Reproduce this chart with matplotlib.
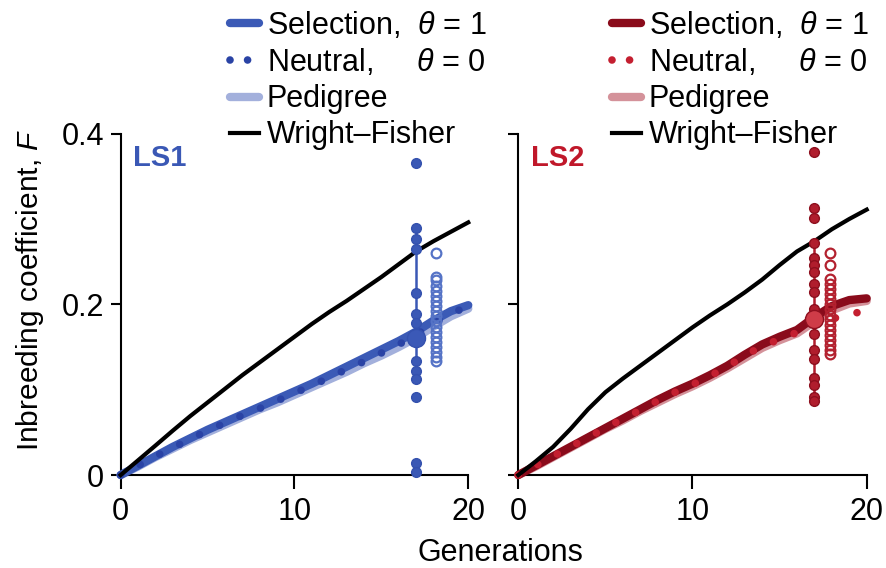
import matplotlib
matplotlib.use('Agg')
import matplotlib.pyplot as plt
import numpy as np

plt.rcParams['font.family'] = ['Liberation Sans', 'DejaVu Sans']
plt.rcParams['mathtext.fontset'] = 'custom'
plt.rcParams['mathtext.rm'] = 'Liberation Sans'
plt.rcParams['mathtext.it'] = 'Liberation Sans:italic'
plt.rcParams['font.size'] = 22

gens = np.arange(21)

# LS1 (blue)
wf1 = [0, 0.0172, 0.0345, 0.052, 0.069, 0.085, 0.101, 0.117, 0.132, 0.147, 0.162,
       0.177, 0.191, 0.204, 0.218, 0.232, 0.247, 0.262, 0.274, 0.285, 0.296]
sel1 = [0, 0.011, 0.022, 0.033, 0.043, 0.053, 0.062, 0.071, 0.080, 0.089, 0.098,
        0.107, 0.117, 0.127, 0.137, 0.147, 0.157, 0.168, 0.181, 0.192, 0.199]
neu1 = [0, 0.011, 0.022, 0.032, 0.042, 0.052, 0.061, 0.070, 0.078, 0.087, 0.096,
        0.105, 0.114, 0.124, 0.133, 0.143, 0.153, 0.164, 0.178, 0.189, 0.198]
ped1 = [0, 0.010, 0.021, 0.031, 0.041, 0.050, 0.059, 0.068, 0.077, 0.085, 0.094,
        0.103, 0.112, 0.121, 0.131, 0.140, 0.150, 0.161, 0.174, 0.186, 0.195]
ls1_filled = [0.366, 0.290, 0.276, 0.265, 0.213, 0.189, 0.178, 0.134, 0.122,
              0.113, 0.091, 0.0145, 0.003]
ls1_open = [0.260, 0.232, 0.228, 0.222, 0.216, 0.210, 0.204, 0.198, 0.192, 0.186,
            0.180, 0.174, 0.168, 0.162, 0.156, 0.150, 0.144, 0.138, 0.134]
ls1_mean = 0.160
ls1_range = [0.113, 0.265]

# LS2 (red)
wf2 = [0, 0.016, 0.033, 0.054, 0.077, 0.097, 0.113, 0.128, 0.143, 0.158, 0.173,
       0.187, 0.200, 0.214, 0.229, 0.246, 0.262, 0.274, 0.288, 0.300, 0.311]
sel2 = [0, 0.011, 0.022, 0.033, 0.044, 0.055, 0.066, 0.077, 0.088, 0.098, 0.107,
        0.117, 0.128, 0.141, 0.153, 0.162, 0.170, 0.185, 0.198, 0.205, 0.207]
neu2 = [0, 0.011, 0.022, 0.033, 0.044, 0.055, 0.066, 0.076, 0.087, 0.097, 0.106,
        0.116, 0.127, 0.140, 0.151, 0.159, 0.167, 0.176, 0.183, 0.188, 0.193]
ped2 = [0, 0.010, 0.021, 0.032, 0.043, 0.054, 0.064, 0.075, 0.085, 0.095, 0.104,
        0.114, 0.125, 0.137, 0.149, 0.158, 0.166, 0.180, 0.193, 0.201, 0.204]
ls2_filled = [0.379, 0.3125, 0.301, 0.272, 0.254, 0.246, 0.238, 0.224, 0.214, 0.195,
              0.165, 0.146, 0.136, 0.114, 0.105, 0.091, 0.087]
ls2_open = [0.260, 0.246, 0.230, 0.224, 0.218, 0.212, 0.206, 0.200, 0.194, 0.188,
            0.182, 0.176, 0.170, 0.164, 0.158, 0.152, 0.147, 0.142]
ls2_mean = 0.183
ls2_range = [0.087, 0.272]

x_filled = 17
x_open = [18.15, 17.9]

panels = [
    dict(name='LS1', wf=wf1, sel=sel1, neu=neu1, ped=ped1, filled=ls1_filled,
         opened=ls1_open, mean=ls1_mean, rng=ls1_range, xo=x_open[0],
         c_sel='#3b5ab6', c_neu='#2a43a5', c_ped='#a3b0dc', c_dot='#3a58b5',
         c_dot_edge='#3451ae', c_big='#3b59b7', c_open='#5573c6', c_txt='#3a58b5'),
    dict(name='LS2', wf=wf2, sel=sel2, neu=neu2, ped=ped2, filled=ls2_filled,
         opened=ls2_open, mean=ls2_mean, rng=ls2_range, xo=x_open[1],
         c_sel='#8a0b1b', c_neu='#c41f30', c_ped='#d4929a', c_dot='#b01d2d',
         c_dot_edge='#8e0f1e', c_big='#cf3c48', c_open='#b3212f', c_txt='#c0182a'),
]

dots = (0, (0.001, 2.9))

fig = plt.figure(figsize=(8.86, 5.68), dpi=100)
ax1 = fig.add_axes([0.1362, 0.1637, 0.3923, 0.601])
ax2 = fig.add_axes([0.585, 0.1637, 0.3932, 0.601])

for ax, p in zip([ax1, ax2], panels):
    ax.plot(gens, p['ped'], color=p['c_ped'], lw=6, solid_capstyle='round',
            zorder=2, clip_on=False)
    ax.plot(gens, p['sel'], color=p['c_sel'], lw=6, solid_capstyle='round',
            zorder=3, clip_on=False)
    ax.plot(gens, p['neu'], color=p['c_neu'], lw=5.5, linestyle=dots,
            dash_capstyle='round', zorder=4, clip_on=False)
    ax.plot(gens, p['wf'], color='black', lw=3, zorder=5, clip_on=False)

    # replicate values at generation 17
    ax.plot([x_filled, x_filled], p['rng'], color=p['c_dot'], lw=1.8, zorder=6)
    ax.plot([p['xo']] * len(p['opened']), p['opened'], linestyle='none', marker='o',
            ms=7, mfc='none', mec=p['c_open'], mew=1.6, zorder=6, clip_on=False)
    ax.plot([x_filled] * len(p['filled']), p['filled'], linestyle='none', marker='o',
            ms=7, mfc=p['c_dot'], mec=p['c_dot_edge'], mew=1.0, zorder=7, clip_on=False)
    ax.plot([x_filled], [p['mean']], linestyle='none', marker='o', ms=13,
            mfc=p['c_big'], mec=p['c_dot_edge'], mew=1.0, zorder=8)

    ax.text(0.035, 0.93, p['name'], transform=ax.transAxes, color=p['c_txt'],
            fontsize=21, fontweight='bold', va='center', ha='left')

    ax.set_xlim(0, 20)
    ax.set_ylim(0, 0.4)
    ax.set_xticks([0, 10, 20])
    ax.set_yticks([0, 0.2, 0.4])
    for s in ['top', 'right']:
        ax.spines[s].set_visible(False)
    for s in ['left', 'bottom']:
        ax.spines[s].set_linewidth(1.5)
    ax.tick_params(axis='both', direction='out', width=1.5, labelsize=22)
    ax.tick_params(axis='x', length=10, pad=6)
    ax.tick_params(axis='y', length=7, pad=5)

ax1.set_yticklabels(['0', '0.2', '0.4'])
ax2.set_yticklabels([])

fig.text(0.034, 0.489, 'Inbreeding coefficient, $F$', rotation=90,
         ha='center', va='center', fontsize=21.5)
fig.text(0.565, 0.012, 'Generations', ha='center', va='baseline', fontsize=22)

labels = ['Selection,  $\\theta$ = 1', 'Neutral,     $\\theta$ = 0', 'Pedigree',
          'Wright\u2013Fisher']
anchors = [227 / 886, 609 / 886]
for ax, p, xa in zip([ax1, ax2], panels, anchors):
    hs = [
        plt.Line2D([], [], color=p['c_sel'], lw=6, solid_capstyle='round'),
        plt.Line2D([], [], color=p['c_neu'], lw=5.5, linestyle=(0, (0.001, 2.3)),
                   dash_capstyle='round'),
        plt.Line2D([], [], color=p['c_ped'], lw=6, solid_capstyle='round'),
        plt.Line2D([], [], color='black', lw=3),
    ]
    fig.legend(hs, labels, loc='upper left', bbox_to_anchor=(xa, 1 - 7 / 568),
               frameon=False, borderpad=0.1, borderaxespad=0, handlelength=0.95,
               handletextpad=0.25, labelspacing=0.2, fontsize=22)

fig.savefig('out.png', dpi=100)
